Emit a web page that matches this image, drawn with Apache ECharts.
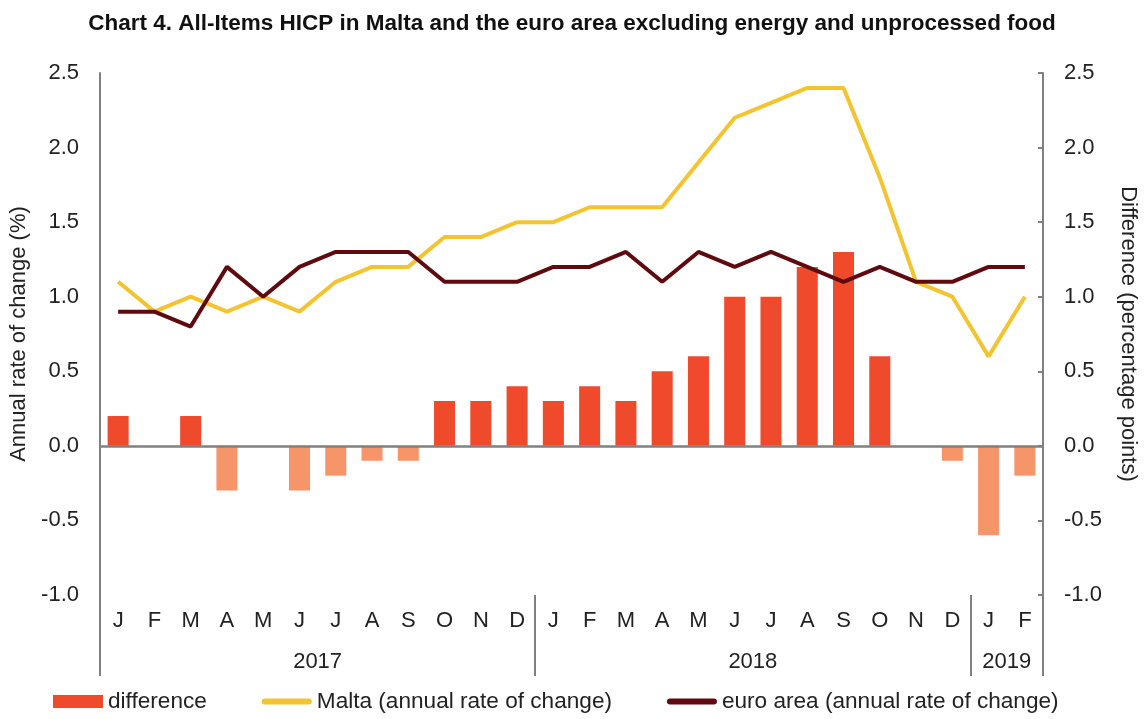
<!DOCTYPE html>
<html>
<head>
<meta charset="utf-8">
<script src="https://cdn.jsdelivr.net/npm/echarts@6/dist/echarts.min.js"></script>
<style>
  html, body { margin: 0; padding: 0; background: #fff; }
  #chart { width: 1144px; height: 719px; }
</style>
</head>
<body>
<div id="chart"></div>
<script>
const months = ['J', 'F', 'M', 'A', 'M', 'J', 'J', 'A', 'S', 'O', 'N', 'D',
  'J', 'F', 'M', 'A', 'M', 'J', 'J', 'A', 'S', 'O', 'N', 'D', 'J', 'F'];
const years = ['2017', '2018', '2019'];
const yearCentres = [6, 18, 25];
const yearBounds = [0, 12, 24, 26];

const malta = [1.1, 0.9, 1.0, 0.9, 1.0, 0.9, 1.1, 1.2, 1.2, 1.4, 1.4, 1.5,
  1.5, 1.6, 1.6, 1.6, 1.9, 2.2, 2.3, 2.4, 2.4, 1.8, 1.1, 1.0, 0.6, 1.0];
const euroArea = [0.9, 0.9, 0.8, 1.2, 1.0, 1.2, 1.3, 1.3, 1.3, 1.1, 1.1, 1.1,
  1.2, 1.2, 1.3, 1.1, 1.3, 1.2, 1.3, 1.2, 1.1, 1.2, 1.1, 1.1, 1.2, 1.2];
const difference = [0.2, 0.0, 0.2, -0.3, 0.0, -0.3, -0.2, -0.1, -0.1, 0.3, 0.3, 0.4,
  0.3, 0.4, 0.3, 0.5, 0.6, 1.0, 1.0, 1.2, 1.3, 0.6, 0.0, -0.1, -0.6, -0.2];

const font = 'Liberation Sans, Arial, sans-serif';
const axisGrey = '#808080';
const textCol = '#222';
// thin rounded bar used as legend icon for the two lines
const lineIcon = 'path://M3,0 L47,0 A3,3 0 0 1 47,6 L3,6 A3,3 0 0 1 3,0 Z';

const yAxisBase = {
  type: 'value',
  min: -1,
  max: 2.5,
  interval: 0.5,
  nameLocation: 'middle',
  nameTextStyle: { fontSize: 22, color: textCol, fontFamily: font },
  axisLine: { show: true, lineStyle: { color: axisGrey, width: 2 } },
  splitLine: { show: false },
  axisLabel: {
    fontSize: 22, color: textCol, fontFamily: font, margin: 21,
    formatter: (v) => v.toFixed(1)
  }
};

const chart = echarts.init(document.getElementById('chart'));
chart.setOption({
  animation: false,
  textStyle: { fontFamily: font },
  title: {
    text: 'Chart 4. All-Items HICP in Malta and the euro area excluding energy and unprocessed food',
    left: 'center',
    top: 7,
    textStyle: { fontSize: 22.5, fontWeight: 'bold', color: '#111', fontFamily: font }
  },
  grid: { left: 100, right: 101, top: 73, bottom: 124, outerBoundsMode: 'none' },
  legend: {
    bottom: 1,
    left: 48,
    itemWidth: 50,
    itemHeight: 13,
    itemGap: 55,
    itemTextGap: 5,
    symbolKeepAspect: true,
    textStyle: { fontSize: 22.6, color: textCol, fontFamily: font },
    data: [
      { name: 'difference', icon: 'rect', itemStyle: { color: '#f04a2c' } },
      { name: 'Malta (annual rate of change)', icon: lineIcon },
      { name: 'euro area (annual rate of change)', icon: lineIcon }
    ]
  },
  xAxis: [
    {
      type: 'category',
      data: months,
      axisLine: { show: false, onZero: false },
      axisTick: { show: false },
      axisLabel: { fontSize: 22, color: textCol, fontFamily: font, margin: 15 }
    },
    {
      type: 'value',
      min: 0,
      max: 26,
      position: 'bottom',
      axisLine: { show: false, onZero: false },
      splitLine: { show: false },
      axisTick: {
        show: true,
        customValues: yearBounds,
        length: 81,
        lineStyle: { color: axisGrey, width: 2 }
      },
      axisLabel: {
        customValues: yearCentres,
        fontSize: 22, color: textCol, fontFamily: font, margin: 56,
        formatter: (v) => years[yearCentres.indexOf(v)] || ''
      }
    }
  ],
  yAxis: [
    Object.assign({}, yAxisBase, {
      name: 'Annual rate of change (%)',
      nameGap: 64,
      axisTick: { show: false }
    }),
    Object.assign({}, yAxisBase, {
      name: 'Difference (percentage points)',
      nameGap: 74,
      nameRotate: -90,
      position: 'right',
      axisTick: { show: true, inside: true, length: 5, lineStyle: { color: axisGrey, width: 2 } }
    })
  ],
  series: [
    {
      name: 'difference',
      type: 'bar',
      yAxisIndex: 1,
      barWidth: '58%',
      data: difference,
      itemStyle: {
        color: (p) => (p.value >= 0 ? '#f04a2c' : '#f7956a')
      },
      markLine: {
        silent: true,
        symbol: 'none',
        label: { show: false },
        lineStyle: { color: axisGrey, width: 2.5, type: 'solid' },
        data: [{ yAxis: 0 }]
      },
      z: 1
    },
    {
      name: 'Malta (annual rate of change)',
      type: 'line',
      data: malta,
      symbol: 'none',
      symbolKeepAspect: true,
      lineStyle: { color: '#f4c430', width: 4 },
      itemStyle: { color: '#f4c430' },
      z: 3
    },
    {
      name: 'euro area (annual rate of change)',
      type: 'line',
      data: euroArea,
      symbol: 'none',
      symbolKeepAspect: true,
      lineStyle: { color: '#5e0a0e', width: 4 },
      itemStyle: { color: '#5e0a0e' },
      z: 4
    }
  ]
});
</script>
</body>
</html>
